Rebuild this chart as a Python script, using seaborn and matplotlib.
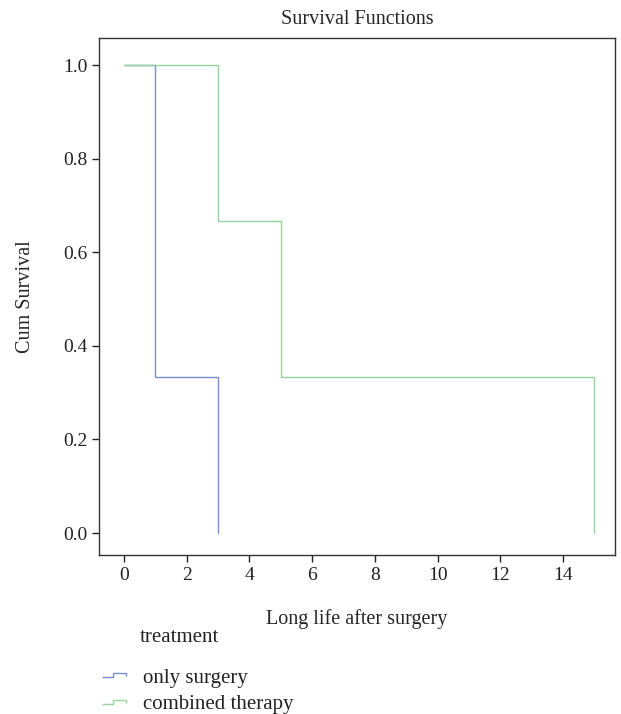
import pandas as pd
import seaborn as sns
import matplotlib.pyplot as plt
from matplotlib.lines import Line2D
from matplotlib.path import Path

# Kaplan-Meier steps (time, cumulative survival)
surgery_time = [0, 1, 3]
surgery_surv = [1.0, 0.3333, 0.0]
combined_time = [0, 3, 5, 15]
combined_surv = [1.0, 0.6667, 0.3333, 0.0]
groups = ["only surgery", "combined therapy"]
colors = ["#7b8cce", "#96d39c"]

data = pd.concat([
    pd.DataFrame({"time": surgery_time, "surv": surgery_surv, "treatment": groups[0]}),
    pd.DataFrame({"time": combined_time, "surv": combined_surv, "treatment": groups[1]}),
])

sns.set_style("white")
plt.rcParams['font.family'] = ['Liberation Serif', 'DejaVu Serif']

fig = plt.figure(figsize=(6.21, 7.14), dpi=100)
ax = fig.add_axes([0.1594, 0.2227, 0.8310, 0.7241])

sns.lineplot(data=data, x="time", y="surv", hue="treatment", palette=colors,
             estimator=None, sort=False, drawstyle="steps-post", linewidth=1.0,
             legend=False, ax=ax)
# keep the green curve on top where both overlap
ax.lines[1].set_zorder(3)

ax.set_xlim(-0.8, 15.66)
ax.set_ylim(-0.047, 1.058)
ax.set_xticks(range(0, 15, 2))
ax.set_yticks([0.0, 0.2, 0.4, 0.6, 0.8, 1.0])
ax.set_yticklabels(["0.0", "0.2", "0.4", "0.6", "0.8", "1.0"])
ax.tick_params(axis="both", which="both", left=True, bottom=True, length=5,
               width=1, direction="out", labelsize=14, colors="#222222")
for s in ax.spines.values():
    s.set_color("#333333")
    s.set_linewidth(1.0)

ax.set_title("Survival Functions", fontsize=14.5, pad=10)
ax.set_xlabel("Long life after surgery", fontsize=14.5, labelpad=18)
ax.set_ylabel("Cum Survival", fontsize=14.5, labelpad=20)

# legend: title as separate text aligned with the labels
fig.text(140 / 621, 1 - 637 / 714, "treatment", fontsize=15, va="center",
         ha="left", color="#222222")
step = Path([(-1.0, -0.2), (-0.05, -0.2), (-0.05, 0.2), (1.0, 0.2), (1.0, -0.05)],
            [Path.MOVETO, Path.LINETO, Path.LINETO, Path.LINETO, Path.LINETO])
handles = [Line2D([], [], linestyle="none", marker=step, markersize=17,
                  markerfacecolor="none", markeredgecolor=c, markeredgewidth=1.0)
           for c in colors]
leg = fig.legend(handles, groups, loc="upper left",
                 bbox_to_anchor=(0.162, 1 - 668 / 714), frameon=False, fontsize=15,
                 handlelength=1.3, handletextpad=0.75,
                 labelspacing=0.35, borderaxespad=0, borderpad=0)
for t in leg.get_texts():
    t.set_color("#222222")

fig.savefig("out.png", dpi=100)
